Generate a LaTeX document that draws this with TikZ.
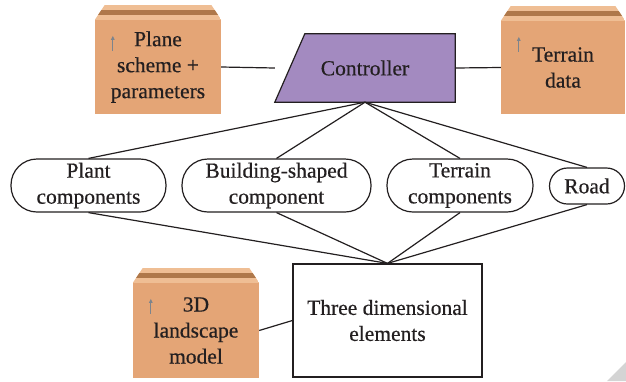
\documentclass[tikz,border=0pt]{standalone}
\usepackage{fontspec}
\setmainfont{Liberation Serif}
\newfontfamily\labelfont[FakeBold=0.5]{Liberation Serif}
\usetikzlibrary{arrows.meta}

\definecolor{crate}{HTML}{E4A576}
\definecolor{lidlight}{HTML}{EFBE94}
\definecolor{liddark}{HTML}{AF784A}
\definecolor{ctrlfill}{HTML}{A38AC0}
\definecolor{tagarrow}{HTML}{7D848C}
\definecolor{ink}{HTML}{231F20}
\definecolor{cornergrey}{HTML}{D4D4D4}

% lid of a cardboard crate sitting on top of a body node, plus its small up arrow
\newcommand\cratelid[1]{%
  \begin{scope}
    \clip ([xshift=10pt,yshift=15pt]#1.north west) -- ([xshift=-10pt,yshift=15pt]#1.north east)
          -- (#1.north east) -- (#1.north west) -- cycle;
    \fill[lidlight] ([yshift=15pt]#1.north west) rectangle (#1.north east);
    \fill[liddark] ([yshift=10pt]#1.north west) rectangle ([yshift=4.5pt]#1.north east);
  \end{scope}%
  \draw[tagarrow, line width=1.3pt, -{Triangle[length=4pt,width=3.5pt]}]
    ([xshift=18pt,yshift=-31pt]#1.north west) -- ([xshift=18pt,yshift=-16pt]#1.north west);%
}

\begin{document}
\begin{tikzpicture}[x=1pt, y=-1pt,
  every node/.style={font=\labelfont\fontsize{21.5}{26}\selectfont, text=ink, align=center, inner sep=0pt},
  crate/.style={fill=crate, draw=none},
  pill/.style={draw=ink, line width=1.2pt, fill=white, minimum height=53pt, rounded corners=26pt},
  frame/.style={draw=ink, line width=1.2pt, fill=white},
  link/.style={draw=ink, line width=1.2pt}]

\useasboundingbox (0,0) rectangle (626,381);

% crates
\node[crate, minimum width=126pt, minimum height=94pt] (plane) at (158,67) {Plane\\scheme +\\parameters};
\node[crate, minimum width=124pt, minimum height=93pt] (tdata) at (563,67.5) {Terrain\\data};
\node[crate, minimum width=126pt, minimum height=95pt] (model) at (196,330.5) {3D\\landscape\\model};
\cratelid{plane}
\cratelid{tdata}
\cratelid{model}

% controller
\node[minimum width=180pt, minimum height=68pt] (ctrl) at (365,68) {};
\fill[ctrlfill, draw=ink, line width=1.2pt]
  ([xshift=30pt]ctrl.north west) -- (ctrl.north east) -- (ctrl.south east) -- (ctrl.south west) -- cycle;
\node at (ctrl.center) {Controller};

% component nodes
\node[pill, minimum width=155pt] (plant) at (88.5,185.5) {Plant\\components};
\node[pill, minimum width=189pt] (build) at (276.5,185.5) {Building-shaped\\component};
\node[pill, minimum width=146pt] (terr) at (460,185.5) {Terrain\\components};
\node[pill, minimum width=75pt, minimum height=36pt, rounded corners=18pt] (road) at (587,186) {Road};

\node[frame, minimum width=189pt, minimum height=113pt] (three) at (387.5,320.5) {Three dimensional\\elements};

% connectors
\draw[link] (plane.east) -- (ctrl.west);
\draw[link] (ctrl.east) -- (tdata.west);
\foreach \n in {plant,build,terr,road}{
  \draw[link] (ctrl.south) -- (\n.north);
  \draw[link] (\n.south) -- (three.north);
}
\draw[link] (model.east) -- (three.west);

% folded page corner
\fill[cornergrey] (607,381) -- (626,381) -- (626,362) -- cycle;
\end{tikzpicture}
\end{document}
